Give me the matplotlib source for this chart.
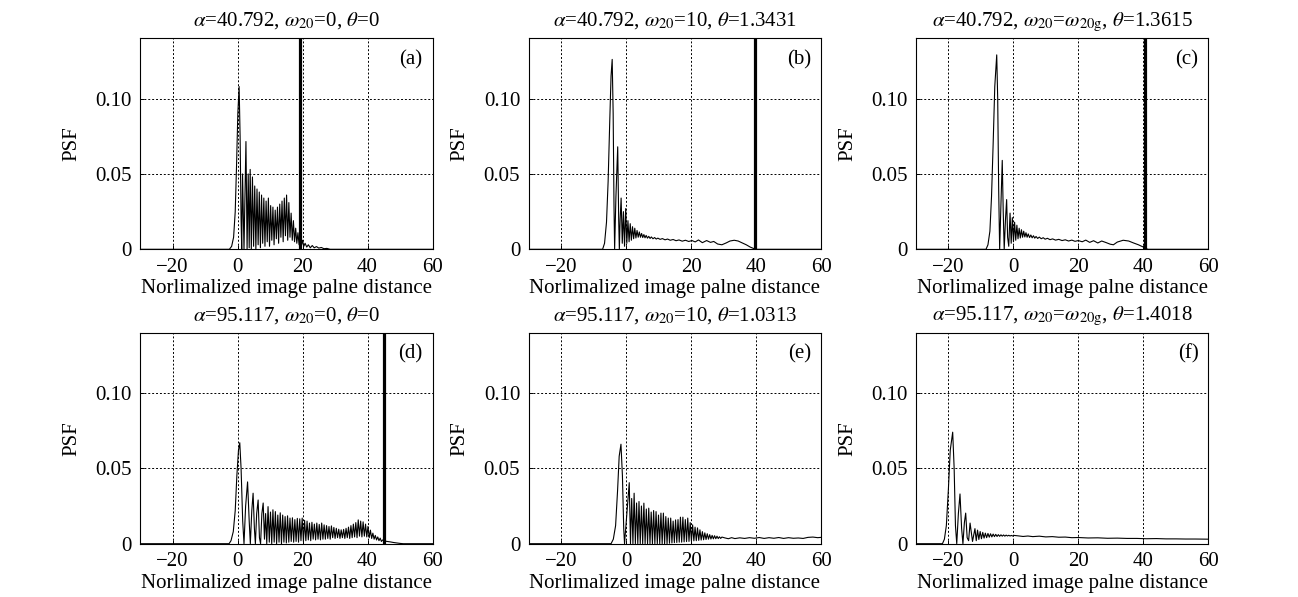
import matplotlib
matplotlib.use("Agg")
import matplotlib.pyplot as plt

plt.rcParams["font.family"] = ["Liberation Serif", "DejaVu Serif"]
plt.rcParams["mathtext.fontset"] = "stix"
plt.rcParams["font.size"] = 15

# panel titles and tags
titles = [
    r"$\alpha$=40.792, $\omega_{20}$=0, $\theta$=0",
    r"$\alpha$=40.792, $\omega_{20}$=10, $\theta$=1.3431",
    r"$\alpha$=40.792, $\omega_{20}$=$\omega_{20\mathrm{g}}$, $\theta$=1.3615",
    r"$\alpha$=95.117, $\omega_{20}$=0, $\theta$=0",
    r"$\alpha$=95.117, $\omega_{20}$=10, $\theta$=1.0313",
    r"$\alpha$=95.117, $\omega_{20}$=$\omega_{20\mathrm{g}}$, $\theta$=1.4018",
]
tags = ["(a)", "(b)", "(c)", "(d)", "(e)", "(f)"]
# position of the thick vertical marker (None = not shown)
marker_x = [19.3, 39.6, 40.4, 45.0, None, None]

x_ticks = [-20, 0, 20, 40, 60]
y_ticks = [0, 0.05, 0.10]
y_tick_labels = ["0", "0.05", "0.10"]

# (a) alpha=40.792, w20=0
a_x = [-30, -2.5, -1.8, -1.2, -0.7, -0.3, 0.1, 0.5, 0.8, 1.1, 1.3,
       1.55, 2.0, 2.6, 2.95, 3.3, 3.6, 3.9, 4.25, 4.6, 4.95, 5.3, 5.65,
       6.0, 6.35, 6.7, 7.05, 7.4, 7.75, 8.1, 8.45, 8.8, 9.15, 9.5, 9.85,
       10.2, 10.55, 10.9, 11.25, 11.6, 11.95, 12.3, 12.65, 13.0, 13.35,
       13.7, 14.05, 14.4, 14.75, 15.1, 15.45, 15.8, 16.15, 16.5, 16.85,
       17.2, 17.55, 17.9, 18.25, 18.6, 18.95, 19.3, 19.65, 20.0, 20.4,
       20.8, 21.3, 21.8, 22.4, 23.0, 23.6, 24.3, 25.0, 25.8, 26.6, 27.5,
       28.5, 60]
a_y = [0, 0, 0.002, 0.008, 0.025, 0.055, 0.09, 0.108, 0.075, 0.02, 0.0,
       0.050, 0.0, 0.0715, 0.0, 0.050, 0.001, 0.053, 0.0, 0.048, 0.002,
       0.042, 0.0, 0.040, 0.003, 0.038, 0.001, 0.036, 0.004, 0.034, 0.002,
       0.032, 0.005, 0.034, 0.002, 0.029, 0.006, 0.028, 0.003, 0.026,
       0.007, 0.028, 0.004, 0.030, 0.008, 0.032, 0.005, 0.034, 0.009,
       0.036, 0.006, 0.031, 0.008, 0.024, 0.006, 0.019, 0.005, 0.014,
       0.004, 0.011, 0.003, 0.008, 0.002, 0.006, 0.002, 0.004, 0.0015,
       0.003, 0.001, 0.0025, 0.001, 0.0018, 0.0008, 0.0012, 0.0004,
       0.0006, 0, 0]

# (b) alpha=40.792, w20=10
b_x = [-30, -7.2, -6.6, -6.0, -5.5, -5.0, -4.6, -4.25, -3.95, -3.7, -3.5,
       -3.1, -2.55, -2.25, -2.05, -1.8, -1.5, -1.15, -0.8, -0.45, -0.1,
       0.25, 0.6, 0.95, 1.3, 1.65, 2.0, 2.35, 2.7, 3.05, 3.4, 3.75, 4.1,
       4.45, 4.8, 5.15, 5.5, 5.85, 6.2, 6.6, 7.0, 7.4, 7.8, 8.3, 8.8,
       9.3, 9.8, 10.5, 11.2, 12.0, 12.8, 13.6, 14.5, 15.4, 16.3, 17.3,
       18.3, 19.3, 20.3, 21.3, 22.3, 23.5, 24.8, 26.0, 27.0, 28.2, 29.5,
       30.8, 32.0, 33.3, 34.5, 35.8, 37.0, 38.2, 39.3, 40.0, 60]
b_y = [0, 0, 0.004, 0.018, 0.045, 0.085, 0.115, 0.126, 0.09, 0.03, 0.0,
       0.035, 0.068, 0.02, 0.0, 0.02, 0.034, 0.004, 0.025, 0.002, 0.027,
       0.004, 0.019, 0.005, 0.017, 0.006, 0.015, 0.007, 0.014, 0.0075,
       0.0125, 0.008, 0.0115, 0.008, 0.0105, 0.0078, 0.0098, 0.0076,
       0.0092, 0.0074, 0.0086, 0.0072, 0.0082, 0.0070, 0.0078, 0.0068,
       0.0074, 0.0066, 0.0071, 0.0063, 0.0068, 0.006, 0.0065, 0.0057,
       0.0062, 0.0054, 0.006, 0.0052, 0.0058, 0.0049, 0.0062, 0.0044,
       0.0058, 0.0046, 0.0052, 0.0035, 0.003, 0.0042, 0.0055, 0.006,
       0.0055, 0.0042, 0.003, 0.0015, 0.0005, 0, 0]

# (c) alpha=40.792, w20=w20g
c_x = [-30, -8.4, -7.8, -7.2, -6.7, -6.2, -5.7, -5.1, -4.8, -4.5, -4.2,
       -3.8, -3.4, -3.1, -2.8, -2.4, -2.05, -1.75, -1.4, -1.0, -0.65,
       -0.3, 0.05, 0.4, 0.75, 1.1, 1.45, 1.8, 2.15, 2.5, 2.85, 3.2, 3.55,
       3.9, 4.25, 4.6, 5.0, 5.4, 5.8, 6.2, 6.6, 7.0, 7.5, 8.0, 8.6, 9.2,
       9.8, 10.5, 11.3, 12.1, 13.0, 14.0, 15.0, 16.0, 17.0, 18.0, 19.0,
       20.0, 21.2, 22.3, 23.5, 24.7, 26.0, 27.2, 28.5, 29.8, 30.8, 32.0,
       33.8, 35.5, 37.0, 38.5, 40.0, 41.0, 41.5, 60]
c_y = [0, 0, 0.003, 0.012, 0.035, 0.07, 0.108, 0.129, 0.1, 0.04, 0.0,
       0.03, 0.059, 0.025, 0.0, 0.02, 0.033, 0.008, 0.002, 0.024, 0.004,
       0.021, 0.005, 0.018, 0.006, 0.016, 0.007, 0.014, 0.0075, 0.013,
       0.008, 0.012, 0.0082, 0.011, 0.008, 0.0102, 0.0078, 0.0095,
       0.0076, 0.009, 0.0074, 0.0085, 0.0072, 0.0081, 0.007, 0.0077,
       0.0067, 0.0073, 0.0064, 0.0069, 0.0061, 0.0066, 0.0058, 0.0063,
       0.0055, 0.0061, 0.0053, 0.0058, 0.005, 0.0061, 0.0046, 0.0057,
       0.0042, 0.0055, 0.0045, 0.0034, 0.003, 0.0048, 0.006, 0.0055,
       0.0042, 0.003, 0.0015, 0.0003, 0, 0]

# (d) alpha=95.117, w20=0
d_x = [-30, -2.6, -2.0, -1.3, -0.7, -0.2, 0.3, 0.7, 1.1, 1.6, 2.0,
       2.5, 3.1, 3.6, 3.95, 4.4, 4.8, 5.2, 5.5, 5.9, 6.35, 6.75, 7.1,
       7.5, 7.9, 8.3, 8.65, 9.0, 9.4, 9.78, 10.15, 10.53, 10.9, 11.28,
       11.65, 12.03, 12.4, 12.78, 13.15, 13.53, 13.9, 14.28, 14.65, 15.03,
       15.4, 15.78, 16.15, 16.53, 16.9, 17.28, 17.65, 18.03, 18.4, 18.78,
       19.15, 19.53, 19.9, 20.28, 20.65, 21.03, 21.4, 21.78, 22.15, 22.53,
       22.9, 23.28, 23.65, 24.03, 24.4, 24.78, 25.15, 25.53, 25.9, 26.28,
       26.65, 27.03, 27.4, 27.78, 28.15, 28.53, 28.9, 29.28, 29.65, 30.03,
       30.4, 30.78, 31.15, 31.53, 31.9, 32.28, 32.65, 33.03, 33.4, 33.78,
       34.15, 34.53, 34.9, 35.28, 35.65, 36.03, 36.4, 36.78, 37.15, 37.53,
       37.9, 38.28, 38.65, 39.03, 39.4, 39.78, 40.15, 40.53, 40.9, 41.28,
       41.65, 42.03, 42.4, 42.78, 43.15, 43.53, 43.9, 44.28, 44.65, 45.2,
       46.0, 47.0, 48.0, 49.0, 50.0, 51.0, 60]
d_y = [0, 0, 0.002, 0.008, 0.022, 0.045, 0.062, 0.067, 0.05, 0.015, 0.0,
       0.025, 0.041, 0.015, 0.0, 0.022, 0.0335, 0.01, 0.0, 0.02, 0.029,
       0.004, 0.0, 0.02, 0.027, 0.003, 0.02, 0.0, 0.0246, 0.001, 0.021,
       0.0, 0.0225, 0.001, 0.0213, 0.0, 0.019, 0.001, 0.0205, 0.0, 0.019,
       0.001, 0.018, 0.0005, 0.0185, 0.001, 0.017, 0.0015, 0.0172, 0.001,
       0.016, 0.0015, 0.0168, 0.001, 0.0165, 0.002, 0.017, 0.0015, 0.0155,
       0.002, 0.015, 0.0025, 0.0137, 0.002, 0.0142, 0.003, 0.013, 0.0025,
       0.0137, 0.003, 0.0128, 0.0025, 0.0137, 0.003, 0.0125, 0.003, 0.012,
       0.0035, 0.0114, 0.003, 0.0118, 0.004, 0.0108, 0.0035, 0.0102,
       0.004, 0.0096, 0.0035, 0.0092, 0.004, 0.0095, 0.0035, 0.0102, 0.004,
       0.011, 0.0035, 0.012, 0.004, 0.013, 0.0045, 0.014, 0.004, 0.0158,
       0.005, 0.015, 0.0045, 0.0145, 0.005, 0.013, 0.0045, 0.0115, 0.004,
       0.009, 0.0035, 0.007, 0.003, 0.0055, 0.0025, 0.0045, 0.002, 0.0037,
       0.0015, 0.0025, 0.0018, 0.0015, 0.0012, 0.0008, 0.0005,
       0.0002, 0, 0]

# (e) alpha=95.117, w20=10
e_x = [-30, -4.6, -3.9, -3.2, -2.6, -2.1, -1.55, -1.1, -0.7, -0.45,
       1.0, 1.38, 1.75, 2.13, 2.5, 2.88, 3.25, 3.63, 4.0, 4.38, 4.75,
       5.13, 5.5, 5.88, 6.25, 6.63, 7.0, 7.38, 7.75, 8.13, 8.5, 8.88,
       9.25, 9.63, 10.0, 10.38, 10.75, 11.13, 11.5, 11.88, 12.25, 12.63,
       13.0, 13.38, 13.75, 14.13, 14.5, 14.88, 15.25, 15.63, 16.0, 16.38,
       16.75, 17.13, 17.5, 17.88, 18.25, 18.63, 19.0, 19.38, 19.75, 20.13,
       20.5, 20.88, 21.25, 21.63, 22.0, 22.38, 22.75, 23.13, 23.5, 23.88,
       24.25, 24.63, 25.0, 25.38, 25.75, 26.13, 26.5, 26.88, 27.25, 27.63,
       28.0, 28.38, 28.75, 29.13, 29.5, 30.5, 31.5, 32.5, 33.5, 35.0,
       36.5, 38.0, 39.5, 41.0, 42.5, 44.0, 45.5, 47.0, 48.5, 50.0, 51.5,
       53.0, 54.5, 56.0, 57.5, 59.0, 60]
e_y = [0, 0, 0.003, 0.012, 0.035, 0.058, 0.066, 0.045, 0.01, 0.0,
       0.0405, 0.0, 0.030, 0.0, 0.0335, 0.0, 0.027, 0.0, 0.028, 0.0,
       0.025, 0.0, 0.0269, 0.0, 0.023, 0.0, 0.0236, 0.0, 0.021, 0.0,
       0.022, 0.0, 0.0213, 0.0, 0.019, 0.0, 0.0203, 0.0, 0.0203, 0.0,
       0.018, 0.0, 0.017, 0.0003, 0.017, 0.0005, 0.015, 0.0007, 0.0158,
       0.0008, 0.016, 0.001, 0.0176, 0.001, 0.0176, 0.0012, 0.016, 0.0014,
       0.017, 0.0015, 0.014, 0.0017, 0.0125, 0.0019, 0.011, 0.002, 0.0105,
       0.0022, 0.0092, 0.0024, 0.008, 0.0026, 0.0072, 0.0028, 0.0066,
       0.003, 0.006, 0.0031, 0.0055, 0.0032, 0.0053, 0.0033, 0.005,
       0.0034, 0.0046, 0.0035, 0.0044, 0.0038, 0.0033, 0.004, 0.0034,
       0.0039, 0.0035, 0.004, 0.0036, 0.0041, 0.0035, 0.004, 0.0036,
       0.0041, 0.0035, 0.004, 0.0036, 0.0038, 0.0035, 0.0042, 0.0044,
       0.004, 0.0042]

# (f) alpha=95.117, w20=w20g
f_x = [-30, -21.8, -21.2, -20.6, -20.0, -19.4, -18.65, -18.2, -17.8,
       -17.4, -16.9, -16.4, -15.9, -15.5, -15.05, -14.65, -14.2, -13.75,
       -13.3, -12.55, -11.8, -11.4, -11.0, -10.6, -10.2, -9.8, -9.4, -9.0,
       -8.6, -8.2, -7.8, -7.4, -7.0, -6.6, -6.2, -5.8, -5.4, -5.0, -4.6,
       -4.2, -3.8, -3.4, -3.0, -2.6, -2.2, -1.8, -1.4, -1.0, -0.6, -0.2,
       0.2, 1.5, 3.0, 4.5, 6.0, 8.0, 10.0, 12.0, 14.0, 16.0, 18.0, 20.0,
       23.0, 26.0, 29.0, 32.0, 35.0, 38.0, 41.0, 44.0, 47.0, 50.0, 53.0,
       56.0, 60]
f_y = [0, 0, 0.003, 0.012, 0.035, 0.062, 0.074, 0.05, 0.012, 0.0, 0.02,
       0.033, 0.01, 0.0, 0.014, 0.0203, 0.004, 0.002, 0.0137, 0.0015,
       0.010, 0.002, 0.009, 0.0028, 0.0081, 0.0033, 0.0075, 0.0037, 0.007,
       0.004, 0.0068, 0.0043, 0.0066, 0.0045, 0.0064, 0.0047, 0.0062,
       0.0048, 0.006, 0.0049, 0.0059, 0.005, 0.0058, 0.005, 0.0057,
       0.0051, 0.0056, 0.0051, 0.0055, 0.0051, 0.0055, 0.0052, 0.0048,
       0.0051, 0.0047, 0.005, 0.0045, 0.0047, 0.0043, 0.0044, 0.004,
       0.0041, 0.0038, 0.0039, 0.0036, 0.0037, 0.0035, 0.0035, 0.0033,
       0.0034, 0.0032, 0.0032, 0.0031, 0.0031, 0.003]

curves = [(a_x, a_y), (b_x, b_y), (c_x, c_y), (d_x, d_y), (e_x, e_y), (f_x, f_y)]

W, H = 1298, 597
col_left = [140, 528.5, 915.8]
row_top = [38.3, 332.7]
ax_w, ax_h = 292.5, 211.0

fig = plt.figure(figsize=(W / 100, H / 100), dpi=100)
fig.patch.set_facecolor("white")

for i, (xs, ys) in enumerate(curves):
    r, c = divmod(i, 3)
    left = col_left[c] / W
    bottom = 1 - (row_top[r] + ax_h) / H
    ax = fig.add_axes([left, bottom, ax_w / W, ax_h / H])
    ax.plot(xs, ys, color="black", linewidth=0.8)
    if marker_x[i] is not None:
        ax.axvline(marker_x[i], color="black", linewidth=2.3)
    ax.set_xlim(-30, 60)
    ax.set_ylim(0, 0.14)
    ax.set_xticks(x_ticks)
    ax.set_yticks(y_ticks)
    ax.set_yticklabels(y_tick_labels)
    ax.grid(True, color="black", linestyle=(0, (2, 2)), linewidth=0.7)
    ax.tick_params(direction="in", length=3, width=0.7, pad=6)
    for s in ax.spines.values():
        s.set_linewidth(0.8)
    ax.set_title(titles[i], pad=9, fontsize=15)
    ax.set_xlabel("Norlimalized image palne distance", labelpad=2)
    ax.set_ylabel("PSF", labelpad=10)
    ax.text(57, 0.126, tags[i], ha="right", va="center")

fig.savefig("out.png", dpi=100)
